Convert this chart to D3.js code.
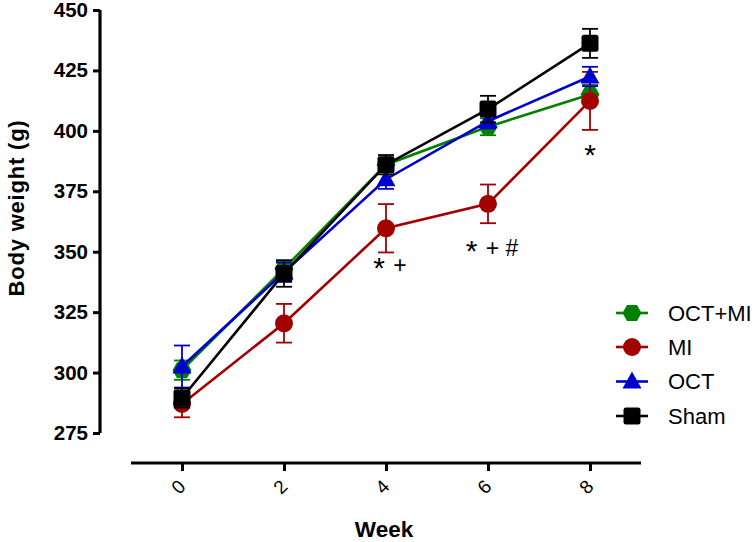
<!DOCTYPE html>
<html><head><meta charset="utf-8">
<script src="https://cdn.jsdelivr.net/npm/d3@7"></script>
<style>body{margin:0;background:#fff}svg{display:block}</style>
</head><body>
<svg id="c" width="756" height="542"></svg>
<script>
const weeks = [0, 2, 4, 6, 8];
const xTicks = [0, 2, 4, 6, 8];
const yTicks = [275, 300, 325, 350, 375, 400, 425, 450];
const seriesNames = ["OCT+MI", "MI", "OCT", "Sham"];
const octMiMean = [301, 343, 386, 401.7, 415];
const octMiErr  = [4, 3, 3, 3.5, 4];
const miMean    = [287, 320.4, 359.7, 369.8, 412.4];
const miErr     = [5.5, 8, 10, 8, 12];
const octMean   = [302.5, 341.5, 380, 404, 422.5];
const octErr    = [8.7, 4, 4, 3, 4];
const shamMean  = [289.5, 341, 386, 409, 436.2];
const shamErr   = [4, 5.5, 4, 5.5, 6];
const annotWeeks = [4, 6, 8];
const annotValues = [344.5, 351.5, 391.3];
const annotTexts = ["* +", "* + #", "*"];

const colors = {"OCT+MI": "#008000", "MI": "#a30000", "OCT": "#0000cc", "Sham": "#000000"};
const shapes = {"OCT+MI": "hex", "MI": "circle", "OCT": "tri", "Sham": "square"};
const series = [
  {name: "OCT+MI", mean: octMiMean, err: octMiErr},
  {name: "MI", mean: miMean, err: miErr},
  {name: "OCT", mean: octMean, err: octErr},
  {name: "Sham", mean: shamMean, err: shamErr}
];

const svg = d3.select("#c");
const x = d3.scaleLinear().domain([-1, 9]).range([131, 641]);
const y = d3.scaleLinear().domain([275, 450]).range([433, 10]);
const font = "'Liberation Sans', Arial, sans-serif";

// Y axis
const yAxis = svg.append("g").attr("transform", "translate(100,0)")
  .call(d3.axisLeft(y).tickValues(yTicks).tickSize(7).tickSizeOuter(0).tickPadding(5));
yAxis.select(".domain").attr("stroke-width", 3.2).attr("d", `M0,${y(275)}V${y(450)}`);
yAxis.selectAll(".tick line").attr("stroke-width", 3);
yAxis.selectAll(".tick text").attr("font-family", font).attr("font-weight", "bold")
  .attr("font-size", 20.5).attr("fill", "#000");

// X axis
const xAxis = svg.append("g").attr("transform", "translate(0,463)")
  .call(d3.axisBottom(x).tickValues(xTicks).tickSize(8).tickSizeOuter(0).tickFormat(d3.format("d")));
xAxis.select(".domain").attr("stroke-width", 3.2).attr("d", `M${x(-1)},0H${x(9)}`);
xAxis.selectAll(".tick line").attr("stroke-width", 3);
xAxis.selectAll(".tick text")
  .attr("font-family", font).attr("font-size", 19).attr("fill", "#000")
  .attr("y", 0).attr("dy", 0)
  .attr("text-anchor", "middle").attr("dominant-baseline", "central")
  .attr("transform", "translate(-4,24) rotate(-45)");

// Axis titles
svg.append("text").attr("x", 384).attr("y", 537).attr("text-anchor", "middle")
  .attr("font-family", font).attr("font-weight", "bold").attr("font-size", 22.5).text("Week");
svg.append("text").attr("transform", "translate(24,208) rotate(-90)").attr("text-anchor", "middle")
  .attr("font-family", font).attr("font-weight", "bold").attr("font-size", 22)
  .attr("letter-spacing", 0.8).text("Body weight (g)");

function marker(g, shape, color) {
  if (shape === "circle") {
    g.append("circle").attr("r", 9).attr("fill", color);
  } else if (shape === "square") {
    g.append("rect").attr("x", -8.5).attr("y", -8.5).attr("width", 17).attr("height", 17)
      .attr("rx", 2.5).attr("fill", color);
  } else if (shape === "tri") {
    g.append("path").attr("d", "M0,-10L9.5,7L-9.5,7Z").attr("fill", color);
  } else if (shape === "hex") {
    g.append("path").attr("d", "M-9.5,0L-5,-8L5,-8L9.5,0L5,8L-5,8Z").attr("fill", color);
  }
}

const line = d3.line().x(d => x(d.w)).y(d => y(d.v));

series.forEach(s => {
  const col = colors[s.name];
  const pts = weeks.map((w, i) => ({w, v: s.mean[i], e: s.err[i]}));
  const g = svg.append("g");
  pts.forEach(p => {
    const eb = g.append("g").attr("stroke", col).attr("stroke-width", 1.8);
    eb.append("line").attr("x1", x(p.w)).attr("x2", x(p.w)).attr("y1", y(p.v - p.e)).attr("y2", y(p.v + p.e));
    eb.append("line").attr("x1", x(p.w) - 8).attr("x2", x(p.w) + 8).attr("y1", y(p.v + p.e)).attr("y2", y(p.v + p.e));
    eb.append("line").attr("x1", x(p.w) - 8).attr("x2", x(p.w) + 8).attr("y1", y(p.v - p.e)).attr("y2", y(p.v - p.e));
  });
  g.append("path").datum(pts).attr("d", line).attr("fill", "none").attr("stroke", col).attr("stroke-width", 2.6);
  pts.forEach(p => {
    marker(g.append("g").attr("transform", `translate(${x(p.w)},${y(p.v)})`), shapes[s.name], col);
  });
});

// annotations (asterisks enlarged and lowered to sit level with + and #)
const annotDx = [4, 4, 0];
annotWeeks.forEach((w, i) => {
  const t = svg.append("text").attr("x", x(w) + annotDx[i]).attr("y", y(annotValues[i]) + 8)
    .attr("text-anchor", "middle")
    .attr("font-family", font).attr("font-size", 23).attr("fill", "#000")
    .attr("xml:space", "preserve");
  const toks = annotTexts[i].split(" ");
  toks.forEach((tok, k) => {
    const ts = t.append("tspan").text(tok + (k < toks.length - 1 ? " " : ""));
    if (tok === "*") ts.attr("font-size", 30).attr("baseline-shift", -5);
  });
});

// legend
const legY = [313, 347, 381.5, 416];
seriesNames.forEach((n, i) => {
  const lg = svg.append("g").attr("transform", `translate(0,${legY[i]})`);
  lg.append("line").attr("x1", 616).attr("x2", 648).attr("y1", 0).attr("y2", 0)
    .attr("stroke", colors[n]).attr("stroke-width", 2.6);
  marker(lg.append("g").attr("transform", "translate(632,0)"), shapes[n], colors[n]);
  lg.append("text").attr("x", 668).attr("y", 0).attr("dominant-baseline", "central")
    .attr("font-family", font).attr("font-size", 22).attr("fill", "#000").text(n);
});
</script>
</body></html>
